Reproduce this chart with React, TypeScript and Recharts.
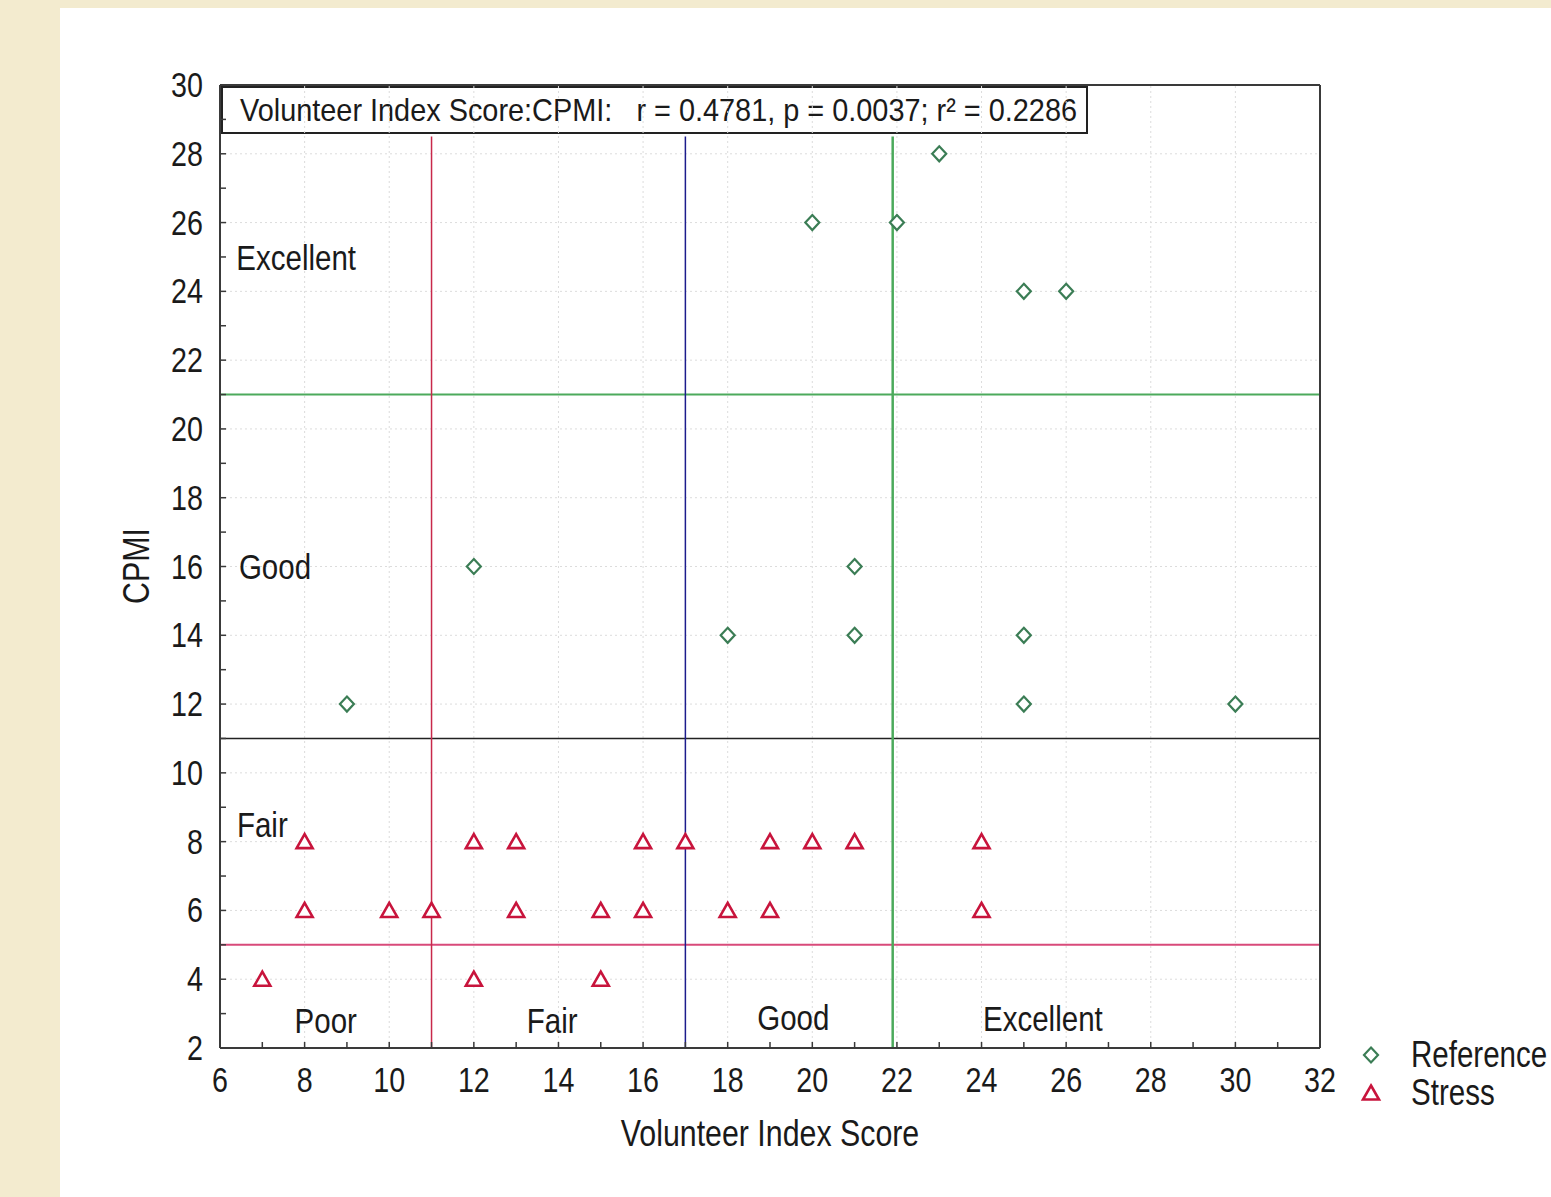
import { ScatterChart, Scatter, XAxis, YAxis, ReferenceLine, Legend } from "recharts"

// axis ticks (minor ticks every unit, labels on even values)
const xTicks = [6, 7, 8, 9, 10, 11, 12, 13, 14, 15, 16, 17, 18, 19, 20, 21, 22, 23, 24, 25, 26, 27, 28, 29, 30, 31, 32]
const yTicks = [2, 3, 4, 5, 6, 7, 8, 9, 10, 11, 12, 13, 14, 15, 16, 17, 18, 19, 20, 21, 22, 23, 24, 25, 26, 27, 28, 29, 30]
const gridX = [8, 10, 12, 14, 16, 18, 20, 22, 24, 26, 28, 30]
const gridY = [4, 6, 8, 10, 12, 14, 16, 18, 20, 22, 24, 26, 28]

const referenceData = [
  { x: 9, y: 12 },
  { x: 12, y: 16 },
  { x: 18, y: 14 },
  { x: 20, y: 26 },
  { x: 21, y: 16 },
  { x: 21, y: 14 },
  { x: 22, y: 26 },
  { x: 23, y: 28 },
  { x: 25, y: 24 },
  { x: 26, y: 24 },
  { x: 25, y: 14 },
  { x: 25, y: 12 },
  { x: 30, y: 12 },
]

const stressData = [
  { x: 7, y: 4 },
  { x: 8, y: 8 },
  { x: 8, y: 6 },
  { x: 10, y: 6 },
  { x: 11, y: 6 },
  { x: 12, y: 8 },
  { x: 12, y: 4 },
  { x: 13, y: 8 },
  { x: 13, y: 6 },
  { x: 15, y: 6 },
  { x: 15, y: 4 },
  { x: 16, y: 8 },
  { x: 16, y: 6 },
  { x: 17, y: 8 },
  { x: 18, y: 6 },
  { x: 19, y: 8 },
  { x: 19, y: 6 },
  { x: 20, y: 8 },
  { x: 21, y: 8 },
  { x: 24, y: 8 },
  { x: 24, y: 6 },
]

// class cut-offs
const cutX = [11, 17, 21.9]
const cutY = [21, 11, 5]
const cutTop = 28.5

const regionLabels = [
  { text: "Excellent", x: 7.8, y: 25 },
  { text: "Good", x: 7.3, y: 16 },
  { text: "Fair", x: 7.0, y: 8.5 },
  { text: "Poor", x: 8.5, y: 2.8 },
  { text: "Fair", x: 13.85, y: 2.8 },
  { text: "Good", x: 19.55, y: 2.9 },
  { text: "Excellent", x: 25.45, y: 2.85 },
]

const title = "Volunteer Index Score:CPMI:   r = 0.4781, p = 0.0037; r² = 0.2286"

const FONT = "'Liberation Sans', Arial, sans-serif"
const NARROW = 0.82
const W = 1551
const H = 1197
const M = { top: 84, right: 230, bottom: 99, left: 160 }
const cutXColors = ["#c8284a", "#1c1c8c", "#4caa5c"]
const cutYColors = ["#4caa5c", "#222222", "#d84a7a"]
const GREEN = "#3b7d55"
const RED = "#c8143c"
const AXIS = "#3a3a3a"
const INK = "#1a1a1a"

// condensed text, like the Arial Narrow of the original
const Narrow = ({ x, y, size, anchor = "middle", rotate = 0, children }: any) => (
  <text
    transform={`translate(${x},${y}) rotate(${rotate}) scale(${NARROW},1)`}
    textAnchor={anchor}
    dominantBaseline="central"
    fontSize={size}
    fontFamily={FONT}
    fill={INK}
  >
    {children}
  </text>
)

const XTick = (props: any) => {
  const { x, y, payload } = props
  if (payload.value % 2 !== 0) return null
  return (
    <Narrow x={x} y={y} size={35}>
      {payload.value}
    </Narrow>
  )
}

const YTick = (props: any) => {
  const { x, y, payload } = props
  if (payload.value % 2 !== 0) return null
  return (
    <Narrow x={x} y={y} size={35} anchor="end">
      {payload.value}
    </Narrow>
  )
}

const Diamond = (props: any) => {
  const { cx, cy } = props
  if (cx == null || cy == null) return null
  return (
    <polygon
      points={`${cx},${cy - 7.5} ${cx + 7},${cy} ${cx},${cy + 7.5} ${cx - 7},${cy}`}
      fill="#fff"
      stroke={GREEN}
      strokeWidth={2.2}
    />
  )
}

const Triangle = (props: any) => {
  const { cx, cy } = props
  if (cx == null || cy == null) return null
  return (
    <polygon
      points={`${cx},${cy - 7.5} ${cx + 8},${cy + 6.5} ${cx - 8},${cy + 6.5}`}
      fill="#fff"
      stroke={RED}
      strokeWidth={2.6}
    />
  )
}

const RegionText = (props: any) => {
  const { cx, cy, payload } = props
  if (cx == null || cy == null) return null
  return (
    <Narrow x={cx} y={cy} size={36}>
      {payload.text}
    </Narrow>
  )
}

const legendItems = [
  { name: "Reference", Icon: Diamond },
  { name: "Stress", Icon: Triangle },
]

const LegendBox = () => (
  <div style={{ fontFamily: FONT, fontSize: 36, color: INK, lineHeight: "38px", width: 260 }}>
    {legendItems.map(({ name, Icon }) => (
      <div key={name} style={{ display: "flex", alignItems: "center", height: 38, whiteSpace: "nowrap" }}>
        <svg width={32} height={38} style={{ flexShrink: 0, overflow: "visible" }}>
          <Icon cx={16} cy={19} />
        </svg>
        <span style={{ marginLeft: 24, display: "inline-block", transform: `scaleX(${NARROW})`, transformOrigin: "left center" }}>
          {name}
        </span>
      </div>
    ))}
  </div>
)

const axisLine = { stroke: AXIS, strokeWidth: 2 }
const tickLine = { stroke: AXIS, strokeWidth: 1.5 }

export default function App() {
  return (
    <div style={{ position: "absolute", left: 0, top: 0, width: W, height: H, background: "#f3ebcf", overflow: "hidden" }}>
      <div style={{ position: "absolute", left: 60, top: 8, width: W - 60, height: H - 8, background: "#fff" }} />
      <div style={{ position: "absolute", left: 0, top: 0 }}>
        <ScatterChart width={W} height={H} margin={M}>
          <XAxis
            type="number"
            dataKey="x"
            domain={[6, 32]}
            ticks={xTicks}
            interval={0}
            height={50}
            tickSize={-6}
            tickMargin={38}
            tick={XTick}
            axisLine={axisLine}
            tickLine={tickLine}
            allowDataOverflow
          />
          <XAxis
            xAxisId="top"
            orientation="top"
            type="number"
            dataKey="x"
            domain={[6, 32]}
            ticks={xTicks}
            interval={0}
            height={1}
            tickSize={-6}
            tick={false}
            axisLine={axisLine}
            tickLine={tickLine}
            allowDataOverflow
          />
          <YAxis
            type="number"
            dataKey="y"
            domain={[2, 30]}
            ticks={yTicks}
            interval={0}
            width={60}
            tickSize={-6}
            tickMargin={23}
            tick={YTick}
            axisLine={axisLine}
            tickLine={tickLine}
            allowDataOverflow
          />
          <YAxis
            yAxisId="right"
            orientation="right"
            type="number"
            dataKey="y"
            domain={[2, 30]}
            ticks={yTicks}
            interval={0}
            width={1}
            tickSize={-6}
            tick={false}
            axisLine={axisLine}
            tickLine={tickLine}
            allowDataOverflow
          />

          {gridX.map((v) => (
            <ReferenceLine key={`gx${v}`} x={v} stroke="#dcdcdc" strokeDasharray="2 3" />
          ))}
          {gridY.map((v) => (
            <ReferenceLine key={`gy${v}`} y={v} stroke="#dcdcdc" strokeDasharray="2 3" />
          ))}

          {cutY.map((v, i) => (
            <ReferenceLine key={`cy${v}`} y={v} stroke={cutYColors[i]} strokeWidth={i === 1 ? 1.5 : 2} />
          ))}
          {cutX.map((v, i) => (
            <ReferenceLine
              key={`cx${v}`}
              segment={[
                { x: v, y: 2 },
                { x: v, y: cutTop },
              ]}
              stroke={cutXColors[i]}
              strokeWidth={i === 2 ? 2.5 : 1.5}
            />
          ))}

          <Scatter name="Reference" data={referenceData} shape={Diamond} isAnimationActive={false} />
          <Scatter name="Stress" data={stressData} shape={Triangle} isAnimationActive={false} />
          <Scatter name="labels" data={regionLabels} shape={RegionText} legendType="none" isAnimationActive={false} />

          <g>
            <rect x={222} y={87} width={865} height={46} fill="#fff" stroke="#222" strokeWidth={2} />
            <text
              x={240}
              y={121}
              fontSize={32}
              fontFamily={FONT}
              fill={INK}
              textLength={837}
              lengthAdjust="spacingAndGlyphs"
              style={{ whiteSpace: "pre" }}
            >
              {title}
            </text>
          </g>

          <Narrow x={770} y={1133} size={37}>
            Volunteer Index Score
          </Narrow>
          <Narrow x={136} y={566} size={37} rotate={-90}>
            CPMI
          </Narrow>

          <Legend
            layout="vertical"
            align="center"
            verticalAlign="middle"
            wrapperStyle={{ left: 1355, top: 1036, width: 260, height: 76 }}
            content={LegendBox}
          />
        </ScatterChart>
      </div>
    </div>
  )
}
